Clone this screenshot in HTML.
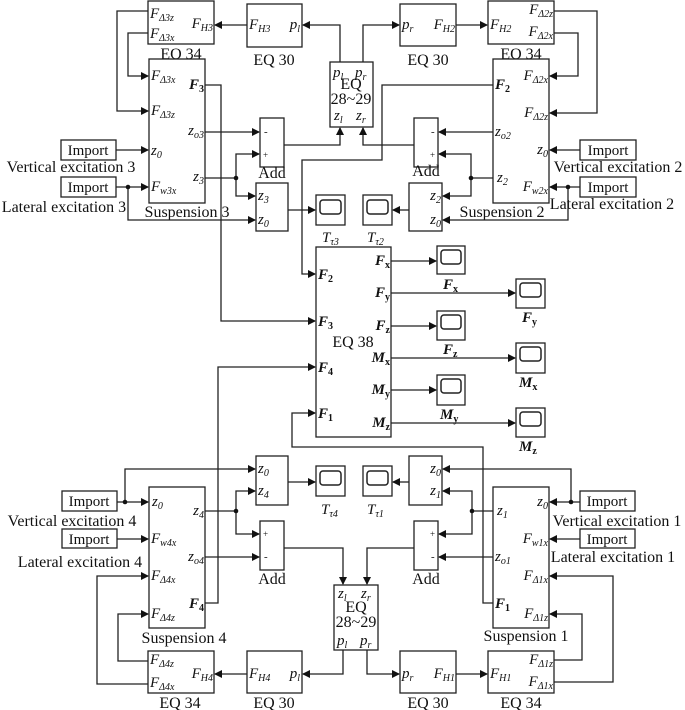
<!DOCTYPE html>
<html><head><meta charset="utf-8"><style>
html,body{margin:0;padding:0;background:#fff;}
svg{display:block;}
text{font-family:"Liberation Serif",serif;fill:#111;}
.b{fill:#fff;stroke:#222;stroke-width:1.3;}
.w{fill:none;stroke:#222;stroke-width:1.3;}
.p{font-size:15px;font-style:italic;}
.bf{font-size:15px;font-style:italic;font-weight:bold;}
.s{font-size:10px;}
.l{font-size:16px;}
.im{font-size:15px;}
.d{fill:#111;}
.e{text-anchor:end;}
</style></head><body>
<svg width="685" height="710" viewBox="0 0 685 710" xmlns="http://www.w3.org/2000/svg">
<defs><marker id="a" markerWidth="8" markerHeight="8" refX="7" refY="4" orient="auto" markerUnits="userSpaceOnUse"><path d="M0,0 L8,4 L0,8 z" fill="#111"/></marker></defs>

<!-- ===== TOP LEFT ===== -->
<rect class="b" x="148" y="1" width="66" height="43"/>
<text class="p" x="150" y="18">F<tspan class="s" dy="3">Δ3z</tspan></text>
<text class="p" x="150" y="38">F<tspan class="s" dy="3">Δ3x</tspan></text>
<text class="p e" x="213" y="28">F<tspan class="s" dy="3">H3</tspan></text>
<text class="l" x="181" y="59" text-anchor="middle">EQ 34</text>

<rect class="b" x="247" y="4" width="55" height="43"/>
<text class="p" x="249" y="29">F<tspan class="s" dy="3">H3</tspan></text>
<text class="p e" x="300" y="29">p<tspan class="s" dy="3">l</tspan></text>
<text class="l" x="274" y="65" text-anchor="middle">EQ 30</text>

<rect class="b" x="149" y="59" width="56" height="144"/>
<text class="p" x="151" y="80">F<tspan class="s" dy="3">Δ3x</tspan></text>
<text class="p" x="151" y="115">F<tspan class="s" dy="3">Δ3z</tspan></text>
<text class="p" x="151" y="155">z<tspan class="s" dy="3">0</tspan></text>
<text class="p" x="151" y="191">F<tspan class="s" dy="3">w3x</tspan></text>
<text class="bf e" x="204" y="89">F<tspan class="s" dy="3" font-style="normal">3</tspan></text>
<text class="p e" x="204" y="135">z<tspan class="s" dy="3">o3</tspan></text>
<text class="p e" x="204" y="181">z<tspan class="s" dy="3">3</tspan></text>
<text class="l" x="187" y="217" text-anchor="middle">Suspension 3</text>

<rect class="b" x="61" y="140" width="55" height="20"/><text class="im" x="88" y="155" text-anchor="middle">Import</text>
<text class="l" x="71" y="172" text-anchor="middle">Vertical excitation 3</text>
<rect class="b" x="61" y="177" width="55" height="20"/><text class="im" x="88" y="192" text-anchor="middle">Import</text>
<text class="l" x="64" y="212" text-anchor="middle">Lateral excitation 3</text>

<rect class="b" x="260" y="118" width="24" height="49"/>
<text x="264" y="135" font-size="11">-</text><text x="263" y="158" font-size="9">+</text>
<text class="l" x="272" y="178" text-anchor="middle">Add</text>
<rect class="b" x="256" y="183" width="32" height="48"/>
<text class="p" x="258" y="200">z<tspan class="s" dy="3">3</tspan></text>
<text class="p" x="258" y="224">z<tspan class="s" dy="3">0</tspan></text>
<rect class="b" x="316" y="195" width="29" height="30"/><rect x="320" y="200" width="21" height="14" rx="3" fill="none" stroke="#222" stroke-width="1.5"/>
<text class="p" x="322" y="242">T<tspan class="s" dy="3">τ3</tspan></text>

<!-- wires TL -->
<path class="w" d="M247,25 H215" marker-end="url(#a)"/>
<path class="w" d="M340,62 V25 H303" marker-end="url(#a)"/>
<path class="w" d="M148,11 H117 V111 H148" marker-end="url(#a)"/>
<path class="w" d="M148,33 H128 V76 H148" marker-end="url(#a)"/>
<path class="w" d="M116,150 H148" marker-end="url(#a)"/>
<path class="w" d="M116,187 H148" marker-end="url(#a)"/>
<path class="w" d="M128,187 V220 H255" marker-end="url(#a)"/>
<circle class="d" cx="128" cy="187" r="2.3"/>
<path class="w" d="M205,132 H259" marker-end="url(#a)"/>
<path class="w" d="M205,178 H236 V154 H259" marker-end="url(#a)"/>
<path class="w" d="M236,178 V196 H255" marker-end="url(#a)"/>
<circle class="d" cx="236" cy="178" r="2.3"/>
<path class="w" d="M284,145 H340 V128" marker-end="url(#a)"/>
<path class="w" d="M288,210 H315" marker-end="url(#a)"/>
<path class="w" d="M205,85 H221 V321 H315" marker-end="url(#a)"/>

<!-- EQ 28~29 top -->
<rect class="b" x="330" y="62" width="43" height="65"/>
<text class="p" x="333" y="77">p<tspan class="s" dy="3">l</tspan></text>
<text class="p" x="355" y="77">p<tspan class="s" dy="3">r</tspan></text>
<text class="l" x="351" y="89" text-anchor="middle">EQ</text>
<text class="l" x="351" y="104" text-anchor="middle">28~29</text>
<text class="p" x="334" y="120">z<tspan class="s" dy="3">l</tspan></text>
<text class="p" x="356" y="120">z<tspan class="s" dy="3">r</tspan></text>

<!-- ===== TOP RIGHT ===== -->
<rect class="b" x="400" y="4" width="56" height="42"/>
<text class="p" x="402" y="29">p<tspan class="s" dy="3">r</tspan></text>
<text class="p e" x="455" y="29">F<tspan class="s" dy="3">H2</tspan></text>
<text class="l" x="428" y="65" text-anchor="middle">EQ 30</text>
<rect class="b" x="488" y="1" width="66" height="43"/>
<text class="p" x="490" y="29">F<tspan class="s" dy="3">H2</tspan></text>
<text class="p e" x="553" y="14">F<tspan class="s" dy="3">Δ2z</tspan></text>
<text class="p e" x="553" y="36">F<tspan class="s" dy="3">Δ2x</tspan></text>
<text class="l" x="521" y="59" text-anchor="middle">EQ 34</text>

<rect class="b" x="493" y="59" width="56" height="144"/>
<text class="bf" x="495" y="89">F<tspan class="s" dy="3" font-style="normal">2</tspan></text>
<text class="p" x="495" y="136">z<tspan class="s" dy="3">o2</tspan></text>
<text class="p" x="497" y="182">z<tspan class="s" dy="3">2</tspan></text>
<text class="p e" x="548" y="80">F<tspan class="s" dy="3">Δ2x</tspan></text>
<text class="p e" x="548" y="117">F<tspan class="s" dy="3">Δ2z</tspan></text>
<text class="p e" x="548" y="154">z<tspan class="s" dy="3">0</tspan></text>
<text class="p e" x="548" y="191">F<tspan class="s" dy="3">w2x</tspan></text>
<text class="l" x="502" y="217" text-anchor="middle">Suspension 2</text>

<rect class="b" x="580" y="140" width="56" height="20"/><text class="im" x="608" y="155" text-anchor="middle">Import</text>
<text class="l" x="618" y="172" text-anchor="middle">Vertical excitation 2</text>
<rect class="b" x="580" y="177" width="56" height="20"/><text class="im" x="608" y="192" text-anchor="middle">Import</text>
<text class="l" x="612" y="209" text-anchor="middle">Lateral excitation 2</text>

<rect class="b" x="414" y="118" width="24" height="49"/>
<text x="431" y="135" font-size="11">-</text><text x="430" y="158" font-size="9">+</text>
<text class="l" x="426" y="176" text-anchor="middle">Add</text>
<rect class="b" x="409" y="183" width="33" height="48"/>
<text class="p e" x="441" y="200">z<tspan class="s" dy="3">2</tspan></text>
<text class="p e" x="441" y="224">z<tspan class="s" dy="3">0</tspan></text>
<rect class="b" x="363" y="195" width="29" height="30"/><rect x="367" y="200" width="21" height="14" rx="3" fill="none" stroke="#222" stroke-width="1.5"/>
<text class="p" x="367" y="242">T<tspan class="s" dy="3">τ2</tspan></text>

<!-- wires TR -->
<path class="w" d="M363,62 V25 H399" marker-end="url(#a)"/>
<path class="w" d="M456,25 H487" marker-end="url(#a)"/>
<path class="w" d="M554,11 H597 V113 H550" marker-end="url(#a)"/>
<path class="w" d="M554,33 H578 V76 H550" marker-end="url(#a)"/>
<path class="w" d="M580,150 H550" marker-end="url(#a)"/>
<path class="w" d="M580,187 H550" marker-end="url(#a)"/>
<path class="w" d="M568,187 V220 H443" marker-end="url(#a)"/>
<circle class="d" cx="568" cy="187" r="2.3"/>
<path class="w" d="M493,132 H439" marker-end="url(#a)"/>
<path class="w" d="M493,178 H471 V154 H439" marker-end="url(#a)"/>
<path class="w" d="M471,178 V196 H443" marker-end="url(#a)"/>
<circle class="d" cx="471" cy="178" r="2.3"/>
<path class="w" d="M414,145 H363 V128" marker-end="url(#a)"/>
<path class="w" d="M409,210 H393" marker-end="url(#a)"/>
<path class="w" d="M493,85 H382 V160 H302 V274 H315" marker-end="url(#a)"/>

<!-- ===== EQ 38 ===== -->
<rect class="b" x="316" y="247" width="75" height="190"/>
<text class="bf" x="318" y="279">F<tspan class="s" dy="3" font-style="normal">2</tspan></text>
<text class="bf" x="318" y="326">F<tspan class="s" dy="3" font-style="normal">3</tspan></text>
<text class="bf" x="318" y="372">F<tspan class="s" dy="3" font-style="normal">4</tspan></text>
<text class="bf" x="318" y="418">F<tspan class="s" dy="3" font-style="normal">1</tspan></text>
<text class="l" x="353" y="347" text-anchor="middle">EQ 38</text>
<text class="bf e" x="390" y="265">F<tspan class="s" dy="3" font-style="normal">x</tspan></text>
<text class="bf e" x="390" y="297">F<tspan class="s" dy="3" font-style="normal">y</tspan></text>
<text class="bf e" x="390" y="330">F<tspan class="s" dy="3" font-style="normal">z</tspan></text>
<text class="bf e" x="390" y="362">M<tspan class="s" dy="3" font-style="normal">x</tspan></text>
<text class="bf e" x="390" y="394">M<tspan class="s" dy="3" font-style="normal">y</tspan></text>
<text class="bf e" x="390" y="427">M<tspan class="s" dy="3" font-style="normal">z</tspan></text>

<g>
<rect class="b" x="437" y="246" width="28" height="28"/><rect x="441" y="250" width="20" height="14" rx="3" fill="none" stroke="#222" stroke-width="1.5"/>
<text class="bf" x="443" y="289">F<tspan class="s" dy="3" font-style="normal">x</tspan></text>
<rect class="b" x="516" y="279" width="29" height="29"/><rect x="520" y="283" width="21" height="14" rx="3" fill="none" stroke="#222" stroke-width="1.5"/>
<text class="bf" x="522" y="322">F<tspan class="s" dy="3" font-style="normal">y</tspan></text>
<rect class="b" x="437" y="311" width="28" height="29"/><rect x="441" y="315" width="20" height="14" rx="3" fill="none" stroke="#222" stroke-width="1.5"/>
<text class="bf" x="443" y="354">F<tspan class="s" dy="3" font-style="normal">z</tspan></text>
<rect class="b" x="516" y="343" width="29" height="30"/><rect x="520" y="347" width="21" height="14" rx="3" fill="none" stroke="#222" stroke-width="1.5"/>
<text class="bf" x="519" y="387">M<tspan class="s" dy="3" font-style="normal">x</tspan></text>
<rect class="b" x="437" y="375" width="28" height="30"/><rect x="441" y="379" width="20" height="14" rx="3" fill="none" stroke="#222" stroke-width="1.5"/>
<text class="bf" x="440" y="419">M<tspan class="s" dy="3" font-style="normal">y</tspan></text>
<rect class="b" x="516" y="408" width="29" height="29"/><rect x="520" y="412" width="21" height="14" rx="3" fill="none" stroke="#222" stroke-width="1.5"/>
<text class="bf" x="519" y="451">M<tspan class="s" dy="3" font-style="normal">z</tspan></text>
</g>
<path class="w" d="M391,261 H436" marker-end="url(#a)"/>
<path class="w" d="M391,293 H515" marker-end="url(#a)"/>
<path class="w" d="M391,326 H436" marker-end="url(#a)"/>
<path class="w" d="M391,358 H515" marker-end="url(#a)"/>
<path class="w" d="M391,390 H436" marker-end="url(#a)"/>
<path class="w" d="M391,423 H515" marker-end="url(#a)"/>

<!-- ===== BOTTOM LEFT ===== -->
<rect class="b" x="62" y="491" width="55" height="20"/><text class="im" x="89" y="506" text-anchor="middle">Import</text>
<text class="l" x="72" y="526" text-anchor="middle">Vertical excitation 4</text>
<rect class="b" x="62" y="529" width="55" height="19"/><text class="im" x="89" y="544" text-anchor="middle">Import</text>
<text class="l" x="80" y="567" text-anchor="middle">Lateral excitation 4</text>

<rect class="b" x="149" y="487" width="56" height="141"/>
<text class="p" x="152" y="506">z<tspan class="s" dy="3">0</tspan></text>
<text class="p" x="151" y="543">F<tspan class="s" dy="3">w4x</tspan></text>
<text class="p" x="151" y="580">F<tspan class="s" dy="3">Δ4x</tspan></text>
<text class="p" x="151" y="618">F<tspan class="s" dy="3">Δ4z</tspan></text>
<text class="p e" x="204" y="515">z<tspan class="s" dy="3">4</tspan></text>
<text class="p e" x="204" y="561">z<tspan class="s" dy="3">o4</tspan></text>
<text class="bf e" x="204" y="608">F<tspan class="s" dy="3" font-style="normal">4</tspan></text>
<text class="l" x="184" y="643" text-anchor="middle">Suspension 4</text>

<rect class="b" x="256" y="456" width="32" height="49"/>
<text class="p" x="258" y="473">z<tspan class="s" dy="3">0</tspan></text>
<text class="p" x="258" y="495">z<tspan class="s" dy="3">4</tspan></text>
<rect class="b" x="316" y="466" width="29" height="30"/><rect x="320" y="471" width="21" height="14" rx="3" fill="none" stroke="#222" stroke-width="1.5"/>
<text class="p" x="321" y="514">T<tspan class="s" dy="3">τ4</tspan></text>
<rect class="b" x="260" y="521" width="24" height="49"/>
<text x="263" y="537" font-size="9">+</text><text x="264" y="560" font-size="11">-</text>
<text class="l" x="272" y="584" text-anchor="middle">Add</text>

<rect class="b" x="148" y="651" width="66" height="42"/>
<text class="p" x="150" y="664">F<tspan class="s" dy="3">Δ4z</tspan></text>
<text class="p" x="150" y="687">F<tspan class="s" dy="3">Δ4x</tspan></text>
<text class="p e" x="213" y="678">F<tspan class="s" dy="3">H4</tspan></text>
<text class="l" x="180" y="708" text-anchor="middle">EQ 34</text>
<rect class="b" x="247" y="651" width="55" height="42"/>
<text class="p" x="249" y="678">F<tspan class="s" dy="3">H4</tspan></text>
<text class="p e" x="300" y="678">p<tspan class="s" dy="3">l</tspan></text>
<text class="l" x="274" y="708" text-anchor="middle">EQ 30</text>

<!-- EQ 28~29 bottom -->
<rect class="b" x="334" y="585" width="44" height="65"/>
<text class="p" x="338" y="598">z<tspan class="s" dy="3">l</tspan></text>
<text class="p" x="361" y="598">z<tspan class="s" dy="3">r</tspan></text>
<text class="l" x="356" y="612" text-anchor="middle">EQ</text>
<text class="l" x="356" y="627" text-anchor="middle">28~29</text>
<text class="p" x="337" y="645">p<tspan class="s" dy="3">l</tspan></text>
<text class="p" x="360" y="645">p<tspan class="s" dy="3">r</tspan></text>

<!-- wires BL -->
<path class="w" d="M117,502 H148" marker-end="url(#a)"/>
<path class="w" d="M125,502 V469 H255" marker-end="url(#a)"/>
<circle class="d" cx="125" cy="502" r="2.3"/>
<path class="w" d="M117,539 H148" marker-end="url(#a)"/>
<path class="w" d="M205,511 H236 V491 H255" marker-end="url(#a)"/>
<path class="w" d="M236,511 V534 H259" marker-end="url(#a)"/>
<circle class="d" cx="236" cy="511" r="2.3"/>
<path class="w" d="M205,557 H259" marker-end="url(#a)"/>
<path class="w" d="M288,482 H315" marker-end="url(#a)"/>
<path class="w" d="M284,548 H343 V584" marker-end="url(#a)"/>
<path class="w" d="M343,650 V674 H303" marker-end="url(#a)"/>
<path class="w" d="M247,674 H215" marker-end="url(#a)"/>
<path class="w" d="M148,661 H118 V614 H148" marker-end="url(#a)"/>
<path class="w" d="M148,684 H97 V576 H148" marker-end="url(#a)"/>
<path class="w" d="M205,603 H218 V367 H315" marker-end="url(#a)"/>

<!-- ===== BOTTOM RIGHT ===== -->
<rect class="b" x="409" y="456" width="33" height="49"/>
<text class="p e" x="441" y="473">z<tspan class="s" dy="3">0</tspan></text>
<text class="p e" x="441" y="495">z<tspan class="s" dy="3">1</tspan></text>
<rect class="b" x="363" y="466" width="29" height="30"/><rect x="367" y="471" width="21" height="14" rx="3" fill="none" stroke="#222" stroke-width="1.5"/>
<text class="p" x="367" y="514">T<tspan class="s" dy="3">τ1</tspan></text>
<rect class="b" x="414" y="521" width="24" height="49"/>
<text x="430" y="537" font-size="9">+</text><text x="431" y="560" font-size="11">-</text>
<text class="l" x="426" y="584" text-anchor="middle">Add</text>

<rect class="b" x="493" y="487" width="56" height="141"/>
<text class="p" x="497" y="515">z<tspan class="s" dy="3">1</tspan></text>
<text class="p" x="495" y="561">z<tspan class="s" dy="3">o1</tspan></text>
<text class="bf" x="495" y="608">F<tspan class="s" dy="3" font-style="normal">1</tspan></text>
<text class="p e" x="548" y="506">z<tspan class="s" dy="3">0</tspan></text>
<text class="p e" x="548" y="543">F<tspan class="s" dy="3">w1x</tspan></text>
<text class="p e" x="548" y="580">F<tspan class="s" dy="3">Δ1x</tspan></text>
<text class="p e" x="548" y="618">F<tspan class="s" dy="3">Δ1z</tspan></text>
<text class="l" x="526" y="641" text-anchor="middle">Suspension 1</text>

<rect class="b" x="580" y="491" width="55" height="20"/><text class="im" x="607" y="506" text-anchor="middle">Import</text>
<text class="l" x="617" y="526" text-anchor="middle">Vertical excitation 1</text>
<rect class="b" x="580" y="529" width="55" height="19"/><text class="im" x="607" y="544" text-anchor="middle">Import</text>
<text class="l" x="613" y="562" text-anchor="middle">Lateral excitation 1</text>

<rect class="b" x="400" y="651" width="56" height="42"/>
<text class="p" x="402" y="678">p<tspan class="s" dy="3">r</tspan></text>
<text class="p e" x="455" y="678">F<tspan class="s" dy="3">H1</tspan></text>
<text class="l" x="428" y="708" text-anchor="middle">EQ 30</text>
<rect class="b" x="488" y="651" width="66" height="42"/>
<text class="p" x="490" y="678">F<tspan class="s" dy="3">H1</tspan></text>
<text class="p e" x="553" y="664">F<tspan class="s" dy="3">Δ1z</tspan></text>
<text class="p e" x="553" y="686">F<tspan class="s" dy="3">Δ1x</tspan></text>
<text class="l" x="521" y="708" text-anchor="middle">EQ 34</text>

<!-- wires BR -->
<path class="w" d="M580,502 H550" marker-end="url(#a)"/>
<path class="w" d="M571,502 V469 H443" marker-end="url(#a)"/>
<circle class="d" cx="571" cy="502" r="2.3"/>
<path class="w" d="M580,539 H550" marker-end="url(#a)"/>
<path class="w" d="M493,511 H472 V491 H443" marker-end="url(#a)"/>
<path class="w" d="M472,511 V534 H439" marker-end="url(#a)"/>
<circle class="d" cx="472" cy="511" r="2.3"/>
<path class="w" d="M493,557 H439" marker-end="url(#a)"/>
<path class="w" d="M409,482 H393" marker-end="url(#a)"/>
<path class="w" d="M414,548 H367 V584" marker-end="url(#a)"/>
<path class="w" d="M367,650 V674 H399" marker-end="url(#a)"/>
<path class="w" d="M456,674 H487" marker-end="url(#a)"/>
<path class="w" d="M554,660 H582 V614 H550" marker-end="url(#a)"/>
<path class="w" d="M554,682 H613 V576 H550" marker-end="url(#a)"/>
<path class="w" d="M493,603 H483 V447 H292 V413 H315" marker-end="url(#a)"/>
</svg>
</body></html>
